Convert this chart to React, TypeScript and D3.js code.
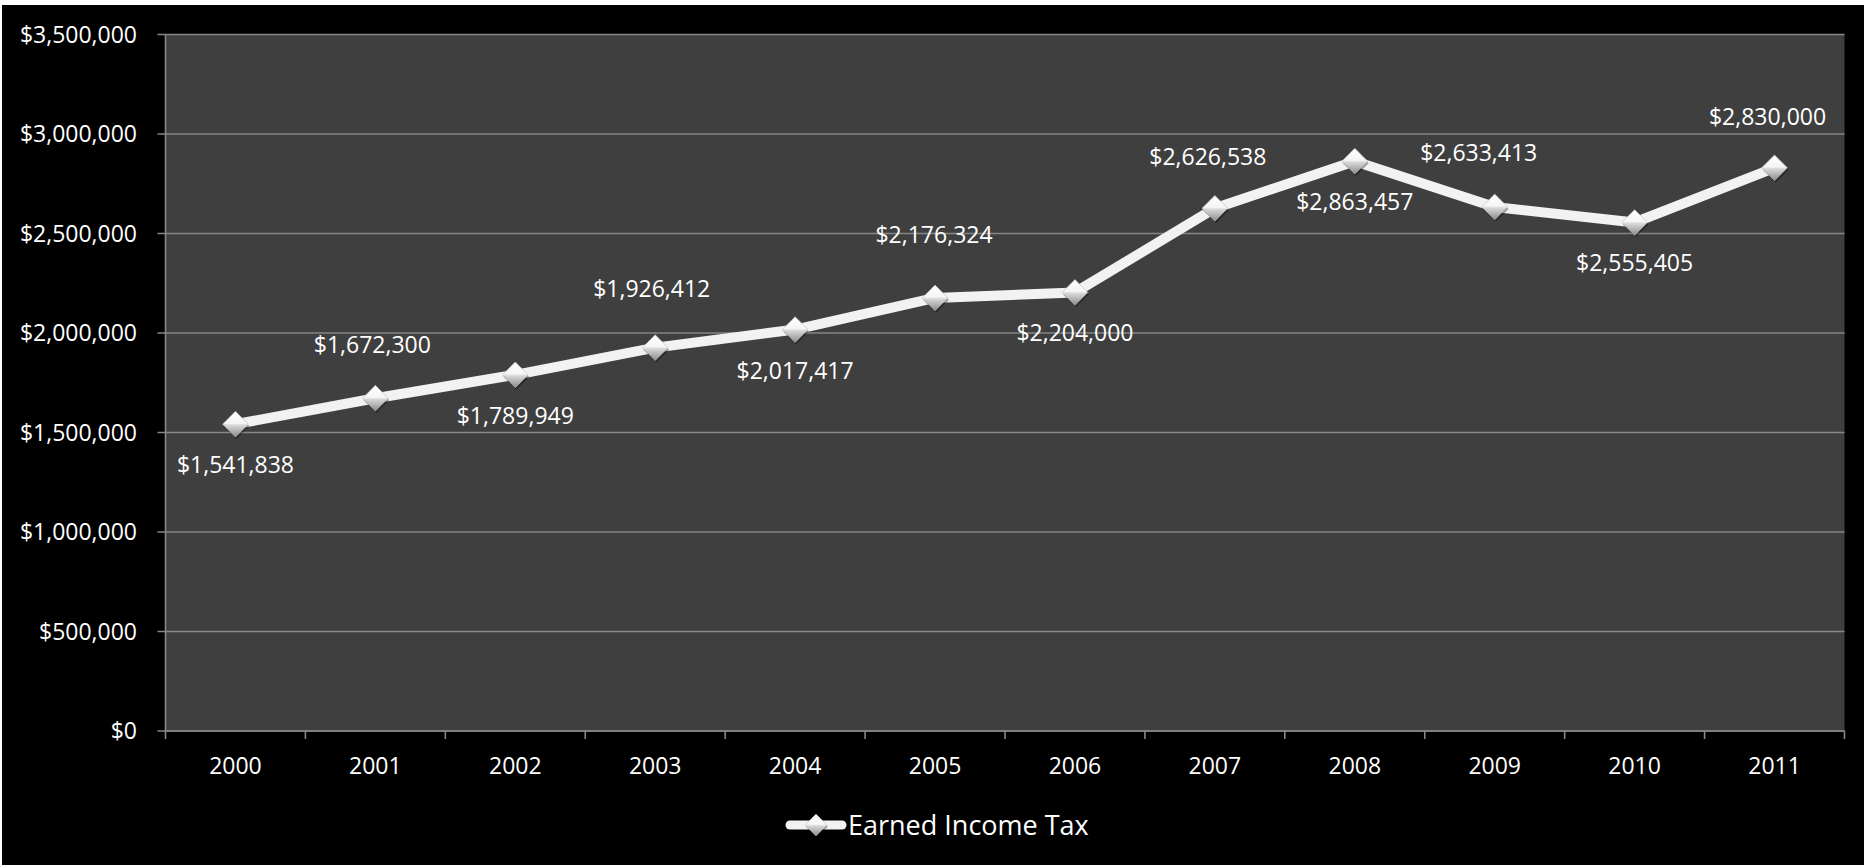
import React from "react";
import * as d3 from "d3";

const years = ["2000", "2001", "2002", "2003", "2004", "2005", "2006", "2007", "2008", "2009", "2010", "2011"];
const earnedIncomeTax = [1541838, 1672300, 1789949, 1926412, 2017417, 2176324, 2204000, 2626538, 2863457, 2633413, 2555405, 2830000];
const labelSide = ["below", "above", "below", "above", "below", "above", "below", "above", "below", "above", "below", "above"];
const yTicks = [0, 500000, 1000000, 1500000, 2000000, 2500000, 3000000, 3500000];
const seriesName = "Earned Income Tax";

// label nudges (layout only)
const labelDx = [0, -3, 0, -3.5, 0, -1, 0, -7, 0, -16, 0, -7];
const labelDyAbove = [0, -45, 0, -51, 0, -55, 0, -43.5, 0, -45.7, 0, -43];

const W = 1864;
const H = 865;
const plotLeft = 165.5;
const plotRight = 1844.5;
const plotTop = 34.5;
const plotBottom = 731;
const FONT = "'Open Sans', 'Noto Sans', sans-serif";

export default function App() {
  const x = d3.scaleBand<string>().domain(years).range([plotLeft, plotRight]).padding(0);
  const y = d3.scaleLinear().domain([0, 3500000]).range([plotBottom, plotTop]);
  const fmt = (v: number) => "$" + d3.format(",")(v);
  const cx = (i: number) => (x(years[i]) as number) + x.bandwidth() / 2;

  const line = d3
    .line<number>()
    .x((_, i) => cx(i))
    .y((d) => y(d));

  const diamond = d3.symbol().type(d3.symbolSquare).size(330)() as string;
  const boundaries = [...years.map((yr) => x(yr) as number), plotRight];

  const Marker = ({ tx, ty }: { tx: number; ty: number }) => (
    <g transform={`translate(${tx},${ty})`}>
      <path d={diamond} transform="translate(1,2) rotate(45)" fill="#000" opacity={0.35} />
      <path d={diamond} transform="rotate(45)" fill="url(#diaGrad)" stroke="#bdbdbd" strokeWidth={0.6} />
    </g>
  );

  return (
    <svg
      width={W}
      height={H}
      style={{ position: "absolute", left: 0, top: 0, display: "block" }}
      fontFamily={FONT}
    >
      <defs>
        <linearGradient id="diaGrad" x1="0" y1="0" x2="1" y2="1">
          <stop offset="0" stopColor="#ffffff" />
          <stop offset="0.47" stopColor="#f5f5f5" />
          <stop offset="0.53" stopColor="#dadada" />
          <stop offset="1" stopColor="#8a8a8a" />
        </linearGradient>
      </defs>
      <rect x={0} y={0} width={W} height={H} fill="#ffffff" />
      <rect x={2} y={5} width={W - 2} height={H - 5} fill="#000000" />
      <rect x={plotLeft} y={plotTop} width={plotRight - plotLeft} height={plotBottom - plotTop} fill="#3f3f3f" />

      {yTicks.map((t) => (
        <g key={t}>
          <line x1={plotLeft - 8} x2={plotRight} y1={y(t)} y2={y(t)} stroke="#868686" strokeWidth={1.6} />
          <text x={137} y={y(t) + 8} textAnchor="end" fill="#ffffff" fontSize={23}>
            {fmt(t)}
          </text>
        </g>
      ))}
      <line x1={plotLeft} x2={plotLeft} y1={plotTop} y2={plotBottom} stroke="#868686" strokeWidth={1.6} />
      <line x1={plotLeft} x2={plotRight} y1={plotBottom} y2={plotBottom} stroke="#868686" strokeWidth={1.6} />
      {boundaries.map((bx, i) => (
        <line key={i} x1={bx} x2={bx} y1={plotBottom} y2={plotBottom + 8} stroke="#868686" strokeWidth={1.6} />
      ))}
      {years.map((yr, i) => (
        <text key={yr} x={cx(i)} y={plotBottom + 43} textAnchor="middle" fill="#ffffff" fontSize={23}>
          {yr}
        </text>
      ))}

      <path
        d={line(earnedIncomeTax) as string}
        fill="none"
        stroke="#f2f2f2"
        strokeWidth={10}
        strokeLinejoin="round"
        strokeLinecap="round"
      />
      {earnedIncomeTax.map((v, i) => (
        <Marker key={i} tx={cx(i)} ty={y(v)} />
      ))}
      {earnedIncomeTax.map((v, i) => (
        <text
          key={"l" + i}
          x={cx(i) + labelDx[i]}
          y={y(v) + (labelSide[i] === "above" ? labelDyAbove[i] : 49)}
          textAnchor="middle"
          fill="#ffffff"
          fontSize={23}
        >
          {fmt(v)}
        </text>
      ))}

      <g>
        <line x1={790} x2={842} y1={825} y2={825} stroke="#f2f2f2" strokeWidth={9} strokeLinecap="round" />
        <g transform="translate(816,825) scale(0.85)">
          <path d={diamond} transform="translate(1,2) rotate(45)" fill="#000" opacity={0.35} />
          <path d={diamond} transform="rotate(45)" fill="url(#diaGrad)" stroke="#bdbdbd" strokeWidth={0.6} />
        </g>
        <text x={848} y={835} fill="#ffffff" fontSize={27}>
          {seriesName}
        </text>
      </g>
    </svg>
  );
}
